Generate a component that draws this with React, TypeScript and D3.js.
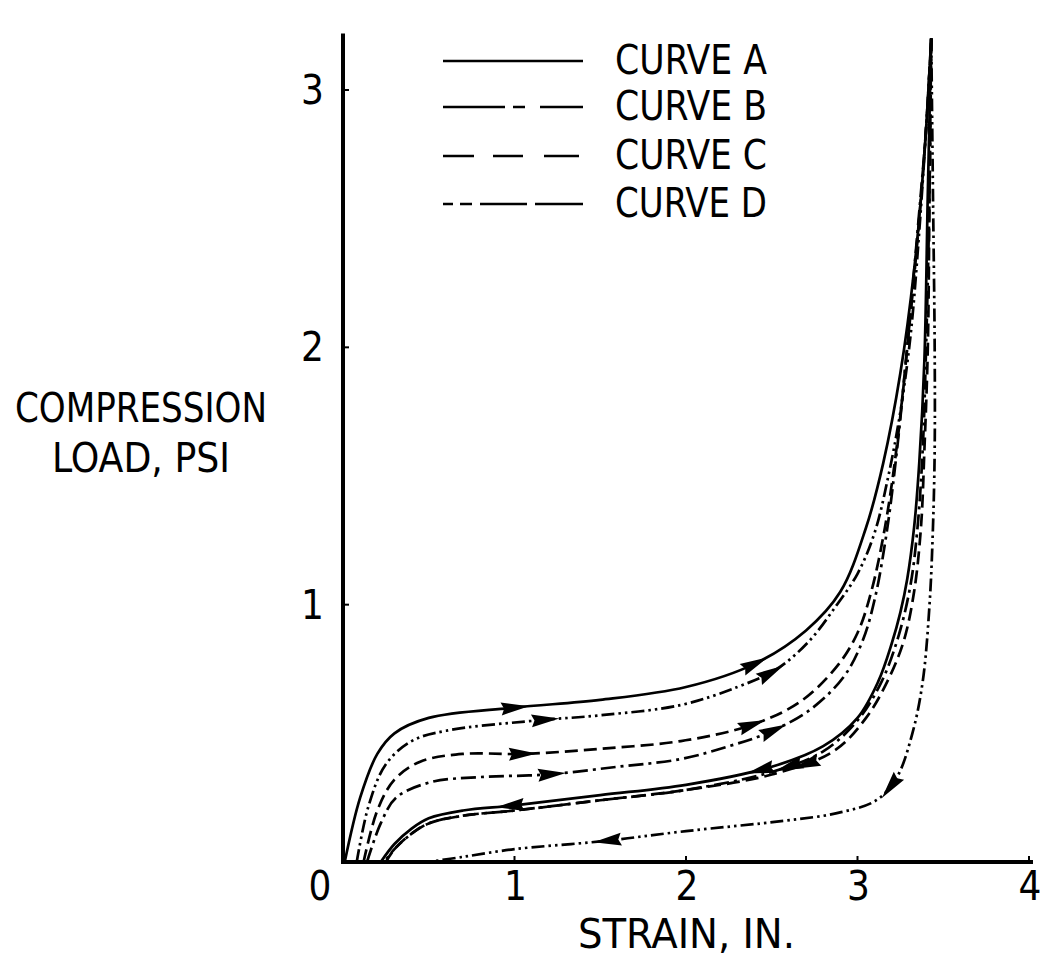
import { useEffect, useRef } from "react";
import * as d3 from "d3";

type Pt = [number, number];

// strain (in.) vs compression load (psi)
const xTicks = [0, 1, 2, 3, 4];
const yTicks = [1, 2, 3];

const loadA: Pt[] = [[0.01, 0], [0.1, 0.25], [0.2, 0.42], [0.3, 0.5], [0.5, 0.56], [1, 0.6], [1.5, 0.63], [2, 0.68], [2.4, 0.77], [2.7, 0.9], [2.9, 1.05], [3.05, 1.3], [3.15, 1.55], [3.25, 1.9], [3.33, 2.3], [3.39, 2.75], [3.43, 3.2]];
const unloadA: Pt[] = [[3.43, 3.2], [3.41, 2.6], [3.39, 1.95], [3.36, 1.55], [3.33, 1.3], [3.29, 1.1], [3.25, 0.97], [3.2, 0.85], [3.12, 0.7], [3.0, 0.56], [2.8, 0.45], [2.5, 0.37], [2.0, 0.3], [1.5, 0.26], [1.0, 0.22], [0.7, 0.2], [0.5, 0.17], [0.4, 0.13], [0.3, 0.07], [0.22, 0]];

const loadB: Pt[] = [[0.14, 0], [0.22, 0.15], [0.31, 0.25], [0.51, 0.31], [0.8, 0.33], [1.19, 0.34], [1.6, 0.37], [1.97, 0.4], [2.25, 0.45], [2.47, 0.5], [2.72, 0.59], [2.92, 0.72], [3.03, 0.86], [3.1, 1.02], [3.17, 1.28], [3.23, 1.6], [3.29, 2.0], [3.35, 2.45], [3.4, 2.85], [3.43, 3.2]];
const unloadB: Pt[] = [[3.43, 3.2], [3.42, 2.6], [3.4, 2.0], [3.38, 1.6], [3.35, 1.3], [3.31, 1.08], [3.24, 0.88], [3.14, 0.7], [3.0, 0.55], [2.8, 0.43], [2.5, 0.35], [2.0, 0.28], [1.5, 0.24], [1.0, 0.2], [0.7, 0.18], [0.5, 0.15], [0.4, 0.11], [0.3, 0.05], [0.24, 0]];

const loadC: Pt[] = [[0.12, 0], [0.2, 0.2], [0.3, 0.32], [0.45, 0.39], [0.7, 0.42], [1.05, 0.42], [1.5, 0.44], [1.97, 0.47], [2.37, 0.53], [2.66, 0.62], [2.88, 0.76], [3.0, 0.89], [3.08, 1.05], [3.16, 1.3], [3.23, 1.62], [3.29, 2.0], [3.35, 2.42], [3.4, 2.85], [3.43, 3.2]];
const unloadC: Pt[] = [[3.43, 3.2], [3.42, 2.6], [3.41, 2.0], [3.39, 1.6], [3.37, 1.3], [3.33, 1.05], [3.27, 0.86], [3.18, 0.71], [3.05, 0.56], [2.86, 0.43], [2.5, 0.34], [2.0, 0.28], [1.5, 0.24], [1.0, 0.2], [0.7, 0.18], [0.5, 0.15], [0.4, 0.11], [0.3, 0.05], [0.25, 0]];

const loadD: Pt[] = [[0.08, 0], [0.15, 0.22], [0.25, 0.38], [0.4, 0.47], [0.6, 0.51], [1.13, 0.55], [1.5, 0.57], [1.97, 0.61], [2.3, 0.68], [2.53, 0.75], [2.72, 0.86], [2.88, 1.0], [3.0, 1.12], [3.1, 1.28], [3.18, 1.5], [3.25, 1.75], [3.31, 2.05], [3.36, 2.45], [3.4, 2.85], [3.43, 3.2]];
const unloadD: Pt[] = [[3.43, 3.2], [3.44, 2.6], [3.45, 2.0], [3.45, 1.6], [3.44, 1.3], [3.42, 1.0], [3.38, 0.7], [3.32, 0.5], [3.23, 0.33], [3.11, 0.24], [2.88, 0.19], [2.57, 0.16], [2.0, 0.12], [1.5, 0.08], [1.0, 0.05], [0.7, 0.02], [0.5, 0]];

const curveNames = ["CURVE A", "CURVE B", "CURVE C", "CURVE D"];

// arrowheads: strain value where an arrow sits on each branch
const arrowsLoadA = [1.0, 2.4];
const arrowsUnloadA = [0.97, 2.43];
const arrowsLoadB = [1.22, 2.51];
const arrowsUnloadB = [2.6];
const arrowsLoadC = [1.05, 2.39];
const arrowsUnloadC = [2.7];
const arrowsLoadD = [1.18, 2.5];
const arrowsUnloadD = [1.54, 3.19];

const FONT = "'Liberation Sans Narrow', 'DejaVu Sans Condensed', 'Arial Narrow', sans-serif";

const dashCurve = ["", "15 5 3 5", "13 6", "13 4 2.5 4 2.5 4"];
const dashLegend = ["", "62 8 12 15 43", "31 19 30 21 35", "10 7 12 8 47 8 48"];

export default function App() {
  const svgRef = useRef<SVGSVGElement>(null);

  useEffect(() => {
    const svg = d3.select(svgRef.current);
    svg.selectAll("*").remove();

    const width = 1040;
    const height = 959;
    svg.append("rect").attr("width", width).attr("height", height).attr("fill", "#fff");

    const x = d3.scaleLinear().domain([0, 4]).range([343, 1029]);
    const y = d3.scaleLinear().domain([0, 3]).range([862, 90]);

    const line = d3
      .line<Pt>()
      .x((d) => x(d[0]))
      .y((d) => y(d[1]))
      .curve(d3.curveCatmullRom.alpha(0.5));

    const branches: { data: Pt[]; dash: string; arrows: number[] }[] = [
      { data: loadA, dash: dashCurve[0], arrows: arrowsLoadA },
      { data: unloadA, dash: dashCurve[0], arrows: arrowsUnloadA },
      { data: loadB, dash: dashCurve[1], arrows: arrowsLoadB },
      { data: unloadB, dash: dashCurve[1], arrows: arrowsUnloadB },
      { data: loadC, dash: dashCurve[2], arrows: arrowsLoadC },
      { data: unloadC, dash: dashCurve[2], arrows: arrowsUnloadC },
      { data: loadD, dash: dashCurve[3], arrows: arrowsLoadD },
      { data: unloadD, dash: dashCurve[3], arrows: arrowsUnloadD },
    ];

    const plot = svg.append("g");
    branches.forEach((b) => {
      const path = plot
        .append("path")
        .datum(b.data)
        .attr("fill", "none")
        .attr("stroke", "#000")
        .attr("stroke-width", 2.7)
        .attr("stroke-dasharray", b.dash || null)
        .attr("d", line);

      // place arrowheads along the drawn path
      const node = path.node() as SVGPathElement;
      const total = node.getTotalLength();
      const samples: { x: number; y: number }[] = [];
      for (let i = 0; i <= 600; i++) {
        const p = node.getPointAtLength((total * i) / 600);
        samples.push({ x: p.x, y: p.y });
      }
      b.arrows.forEach((ax) => {
        const px = x(ax);
        let best = 1;
        for (let i = 1; i < samples.length - 1; i++) {
          if (Math.abs(samples[i].x - px) < Math.abs(samples[best].x - px)) best = i;
        }
        const p0 = samples[Math.max(0, best - 3)];
        const p1 = samples[Math.min(samples.length - 1, best + 3)];
        const ang = (Math.atan2(p1.y - p0.y, p1.x - p0.x) * 180) / Math.PI;
        plot
          .append("path")
          .attr("d", "M14,0 L-14,-6.5 L-11,0 L-14,6.5 Z")
          .attr("fill", "#000")
          .attr("transform", `translate(${samples[best].x},${samples[best].y}) rotate(${ang})`);
      });
    });

    // axes
    const axes = svg.append("g").attr("stroke", "#000").attr("stroke-width", 4);
    axes.append("line").attr("x1", x(0)).attr("x2", x(0)).attr("y1", y(0) + 2).attr("y2", y(3.22));
    axes.append("line").attr("x1", x(0) - 2).attr("x2", x(4) + 4).attr("y1", y(0)).attr("y2", y(0));

    axes
      .selectAll(".xt")
      .data(xTicks.slice(1))
      .join("line")
      .attr("stroke-width", 2)
      .attr("x1", (d) => x(d))
      .attr("x2", (d) => x(d))
      .attr("y1", y(0))
      .attr("y2", y(0) - 6);

    axes
      .selectAll(".yt")
      .data(yTicks)
      .join("line")
      .attr("stroke-width", 2)
      .attr("x1", x(0))
      .attr("x2", x(0) + 6)
      .attr("y1", (d) => y(d))
      .attr("y2", (d) => y(d));

    const txt = svg.append("g").attr("font-family", FONT).attr("fill", "#000");

    txt
      .selectAll(".xl")
      .data(xTicks)
      .join("text")
      .attr("x", (d) => (d === 0 ? x(d) - 23 : x(d) + 1))
      .attr("y", 900)
      .attr("text-anchor", "middle")
      .attr("font-size", 40)
      .text((d) => d);

    txt
      .selectAll(".yl")
      .data(yTicks)
      .join("text")
      .attr("x", 324)
      .attr("y", (d) => y(d) + 14)
      .attr("text-anchor", "end")
      .attr("font-size", 40)
      .text((d) => d);

    const label = (tx: number, ty: number, s: string, len: number) =>
      txt
        .append("text")
        .attr("x", tx)
        .attr("y", ty)
        .attr("font-size", 40)
        .attr("textLength", len)
        .attr("lengthAdjust", "spacingAndGlyphs")
        .text(s);

    label(578, 948, "STRAIN, IN.", 217);
    label(15, 422, "COMPRESSION", 252);
    label(52, 472, "LOAD, PSI", 178);

    // legend
    const legendY = [61, 107, 156, 204];
    curveNames.forEach((name, i) => {
      svg
        .append("line")
        .attr("x1", 443)
        .attr("x2", 583)
        .attr("y1", legendY[i])
        .attr("y2", legendY[i])
        .attr("stroke", "#000")
        .attr("stroke-width", 2.6)
        .attr("stroke-dasharray", dashLegend[i] || null);
      label(615, legendY[i] + 13, name, 152);
    });
  }, []);

  return (
    <svg
      ref={svgRef}
      width={1040}
      height={959}
      style={{ position: "absolute", left: 0, top: 0, display: "block" }}
    />
  );
}
